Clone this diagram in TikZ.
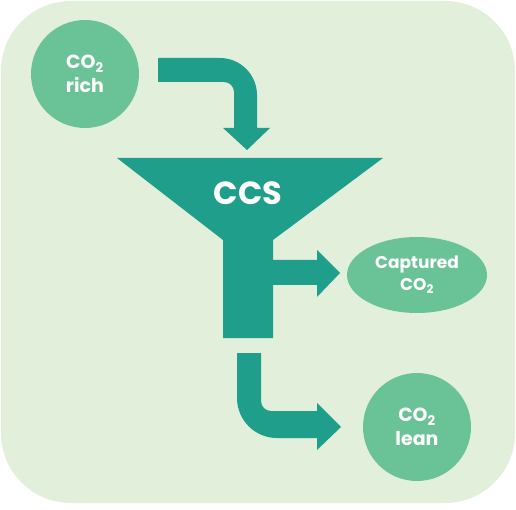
\documentclass[tikz,border=0pt]{standalone}
\usepackage{fontspec}
\usetikzlibrary{shapes.geometric}
\newfontfamily\labelfont{Poppins}
\definecolor{bgleaf}{RGB}{226,239,218}
\definecolor{ccsteal}{RGB}{31,158,139}
\definecolor{bubblegreen}{RGB}{106,195,151}
\newcommand{\cotwo}{CO\textsubscript{2}}
\tikzset{
  flow/.style={fill=ccsteal},
  bubble/.style={fill=bubblegreen,text=white,inner sep=0pt,align=center,
    font=\labelfont\bfseries\fontsize{19}{24}\selectfont}
}

\begin{document}
\begin{tikzpicture}[x=1pt,y=-1pt]
\useasboundingbox (0,0) rectangle (516,510);
\fill [bgleaf,rounded corners=70pt] (1,1) rectangle (515,503);
% funnel
\fill [flow] (117,158) -- (383,158) -- (273,240) -- (273,338) -- (223,338) -- (223,240) -- cycle;
\node [text=white,font=\labelfont\bfseries\fontsize{32}{36}\selectfont] (ccs) at (248,193) {CCS};
% in arrow
\fill [flow] (158,58) -- (220,58) .. controls (240.4,58) and (257,74.6) .. (257,95)
  -- (257,128) -- (270,128) -- (247,150) -- (223,128) -- (234,128) -- (234,92)
  .. controls (234,86.5) and (229.5,82) .. (224,82) -- (158,82) -- cycle;
% side arrow
\fill [flow] (270,260) -- (317,260) -- (317,250) -- (340,273) -- (317,297) -- (317,285) -- (270,285) -- cycle;
% out arrow
\fill [flow] (237,353) -- (237,398) .. controls (237,420.1) and (254.9,438) .. (277,438)
  -- (317,438) -- (317,450) -- (341,427) -- (317,403) -- (317,411) -- (271,411)
  .. controls (265.5,411) and (261,406.5) .. (261,401) -- (261,353) -- cycle;
% bubbles
\node [bubble,circle,minimum size=108pt] (rich) at (85,74) {\cotwo\\rich};
\node [bubble,ellipse,minimum width=140pt,minimum height=76pt,
  font=\labelfont\bfseries\fontsize{17}{22}\selectfont] (captured) at (417,275) {Captured\\\cotwo};
\node [bubble,circle,minimum size=108pt] (lean) at (417,427) {\cotwo\\lean};
\end{tikzpicture}
\end{document}
